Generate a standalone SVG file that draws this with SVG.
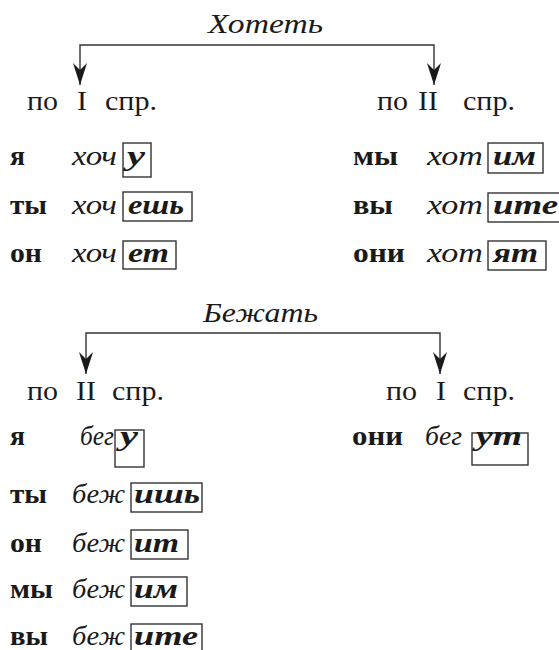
<svg xmlns="http://www.w3.org/2000/svg" width="559" height="650" viewBox="0 0 559 650">
<defs>
<style>
text{font-family:"Liberation Serif","Times New Roman",serif;font-size:27px;fill:#1a1a1a}
.t{font-style:italic}
.p{font-weight:bold}
.st{font-style:italic;font-weight:normal}
.e{font-style:italic;font-weight:bold}
.box{fill:none;stroke:#333;stroke-width:1.4}
.c{fill:none;stroke:#333;stroke-width:1.4}
</style>
<marker id="ah" viewBox="0 0 22 14" refX="22" refY="7" markerWidth="22" markerHeight="14" markerUnits="userSpaceOnUse" orient="auto">
<path d="M0,0 L22,7 L0,14 L7,7 Z" fill="#1a1a1a"/>
</marker>
</defs>
<rect width="559" height="650" fill="#fff"/>

<g id="connectors">
<path class="c" d="M257,45 H80 V85" marker-end="url(#ah)"/>
<path class="c" d="M257,45 H434 V85" marker-end="url(#ah)"/>
<path class="c" d="M263,333 H86 V374" marker-end="url(#ah)"/>
<path class="c" d="M263,333 H440 V374" marker-end="url(#ah)"/>
</g>

<g id="title1"><text class="t" x="208" y="33" textLength="115" lengthAdjust="spacingAndGlyphs">Хотеть</text></g>
<g id="conj1-left"><text x="27" y="110" textLength="31" lengthAdjust="spacingAndGlyphs">по</text><text x="77" y="110" textLength="10" lengthAdjust="spacingAndGlyphs">I</text><text x="105" y="110" textLength="52" lengthAdjust="spacingAndGlyphs">спр.</text></g>
<g id="conj1-right"><text x="377" y="110" textLength="31" lengthAdjust="spacingAndGlyphs">по</text><text x="418" y="110" textLength="20" lengthAdjust="spacingAndGlyphs">II</text><text x="463" y="110" textLength="52" lengthAdjust="spacingAndGlyphs">спр.</text></g>

<g id="r1-ya"><text class="p" x="10" y="165" textLength="15" lengthAdjust="spacingAndGlyphs">я</text><text class="st" x="72" y="165" textLength="45" lengthAdjust="spacingAndGlyphs">хоч</text><rect class="box" x="123" y="143" width="28" height="34"/><text class="e" x="127" y="165" textLength="18" lengthAdjust="spacingAndGlyphs">у</text></g>
<g id="r1-ty"><text class="p" x="10" y="214" textLength="37" lengthAdjust="spacingAndGlyphs">ты</text><text class="st" x="72" y="214" textLength="45" lengthAdjust="spacingAndGlyphs">хоч</text><rect class="box" x="123" y="192" width="69" height="29"/><text class="e" x="128" y="214" textLength="56" lengthAdjust="spacingAndGlyphs">ешь</text></g>
<g id="r1-on"><text class="p" x="10" y="262" textLength="32" lengthAdjust="spacingAndGlyphs">он</text><text class="st" x="72" y="262" textLength="45" lengthAdjust="spacingAndGlyphs">хоч</text><rect class="box" x="123" y="241" width="53" height="28"/><text class="e" x="128" y="262" textLength="41" lengthAdjust="spacingAndGlyphs">ет</text></g>

<g id="r1-my"><text class="p" x="353" y="165" textLength="45" lengthAdjust="spacingAndGlyphs">мы</text><text class="st" x="427" y="165" textLength="56" lengthAdjust="spacingAndGlyphs">хот</text><rect class="box" x="488" y="143" width="55" height="30"/><text class="e" x="493" y="165" textLength="43" lengthAdjust="spacingAndGlyphs">им</text></g>
<g id="r1-vy"><text class="p" x="353" y="214" textLength="40" lengthAdjust="spacingAndGlyphs">вы</text><text class="st" x="427" y="214" textLength="56" lengthAdjust="spacingAndGlyphs">хот</text><rect class="box" x="488" y="193" width="75" height="29"/><text class="e" x="493" y="214" textLength="65" lengthAdjust="spacingAndGlyphs">ите</text></g>
<g id="r1-oni"><text class="p" x="353" y="262" textLength="52" lengthAdjust="spacingAndGlyphs">они</text><text class="st" x="427" y="262" textLength="56" lengthAdjust="spacingAndGlyphs">хот</text><rect class="box" x="488" y="241" width="58" height="29"/><text class="e" x="493" y="262" textLength="45" lengthAdjust="spacingAndGlyphs">ят</text></g>

<g id="title2"><text class="t" x="203" y="322" textLength="115" lengthAdjust="spacingAndGlyphs">Бежать</text></g>
<g id="conj2-left"><text x="27" y="400" textLength="31" lengthAdjust="spacingAndGlyphs">по</text><text x="76" y="400" textLength="20" lengthAdjust="spacingAndGlyphs">II</text><text x="112" y="400" textLength="52" lengthAdjust="spacingAndGlyphs">спр.</text></g>
<g id="conj2-right"><text x="386" y="400" textLength="31" lengthAdjust="spacingAndGlyphs">по</text><text x="436" y="400" textLength="10" lengthAdjust="spacingAndGlyphs">I</text><text x="463" y="400" textLength="52" lengthAdjust="spacingAndGlyphs">спр.</text></g>

<g id="r2-ya"><text class="p" x="10" y="445" textLength="15" lengthAdjust="spacingAndGlyphs">я</text><text class="st" x="80" y="445" textLength="34" lengthAdjust="spacingAndGlyphs">бег</text><rect class="box" x="115" y="430" width="29" height="37"/><text class="e" x="120" y="445" textLength="18" lengthAdjust="spacingAndGlyphs">у</text></g>
<g id="r2-oni"><text class="p" x="352" y="445" textLength="51" lengthAdjust="spacingAndGlyphs">они</text><text class="st" x="425" y="445" textLength="37" lengthAdjust="spacingAndGlyphs">бег</text><rect class="box" x="472" y="433" width="56" height="32"/><text class="e" x="476" y="445" textLength="46" lengthAdjust="spacingAndGlyphs">ут</text></g>
<g id="r2-ty"><text class="p" x="10" y="503" textLength="37" lengthAdjust="spacingAndGlyphs">ты</text><text class="st" x="72" y="503" textLength="53" lengthAdjust="spacingAndGlyphs">беж</text><rect class="box" x="131" y="483" width="71" height="29"/><text class="e" x="134" y="503" textLength="66" lengthAdjust="spacingAndGlyphs">ишь</text></g>
<g id="r2-on"><text class="p" x="10" y="552" textLength="32" lengthAdjust="spacingAndGlyphs">он</text><text class="st" x="72" y="552" textLength="53" lengthAdjust="spacingAndGlyphs">беж</text><rect class="box" x="131" y="530" width="57" height="29"/><text class="e" x="134" y="552" textLength="45" lengthAdjust="spacingAndGlyphs">ит</text></g>
<g id="r2-my"><text class="p" x="10" y="598" textLength="43" lengthAdjust="spacingAndGlyphs">мы</text><text class="st" x="72" y="598" textLength="53" lengthAdjust="spacingAndGlyphs">беж</text><rect class="box" x="131" y="577" width="56" height="29"/><text class="e" x="134" y="598" textLength="44" lengthAdjust="spacingAndGlyphs">им</text></g>
<g id="r2-vy"><text class="p" x="10" y="645" textLength="38" lengthAdjust="spacingAndGlyphs">вы</text><text class="st" x="72" y="645" textLength="53" lengthAdjust="spacingAndGlyphs">беж</text><rect class="box" x="131" y="624" width="71" height="30"/><text class="e" x="134" y="645" textLength="64" lengthAdjust="spacingAndGlyphs">ите</text></g>
</svg>
